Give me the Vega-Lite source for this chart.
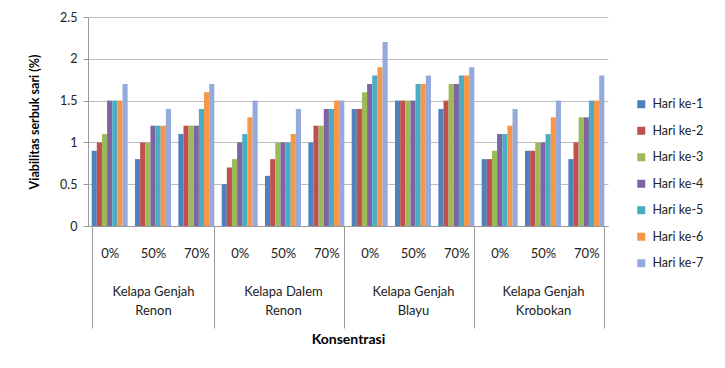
{
  "$schema": "https://vega.github.io/schema/vega-lite/v6.json",
  "width": 520,
  "height": 209,
  "autosize": {"type": "none"},
  "padding": {"left": 88, "top": 17, "right": 117, "bottom": 142},
  "background": "white",
  "config": {"font": "Lato", "view": {"stroke": null}},
  "data": {
    "values": [
      {"kelompok": "Kelapa Genjah Renon", "konsentrasi": "0%", "hari": "Hari ke-1", "nilai": 0.9},
      {"kelompok": "Kelapa Genjah Renon", "konsentrasi": "0%", "hari": "Hari ke-2", "nilai": 1.0},
      {"kelompok": "Kelapa Genjah Renon", "konsentrasi": "0%", "hari": "Hari ke-3", "nilai": 1.1},
      {"kelompok": "Kelapa Genjah Renon", "konsentrasi": "0%", "hari": "Hari ke-4", "nilai": 1.5},
      {"kelompok": "Kelapa Genjah Renon", "konsentrasi": "0%", "hari": "Hari ke-5", "nilai": 1.5},
      {"kelompok": "Kelapa Genjah Renon", "konsentrasi": "0%", "hari": "Hari ke-6", "nilai": 1.5},
      {"kelompok": "Kelapa Genjah Renon", "konsentrasi": "0%", "hari": "Hari ke-7", "nilai": 1.7},
      {"kelompok": "Kelapa Genjah Renon", "konsentrasi": "50%", "hari": "Hari ke-1", "nilai": 0.8},
      {"kelompok": "Kelapa Genjah Renon", "konsentrasi": "50%", "hari": "Hari ke-2", "nilai": 1.0},
      {"kelompok": "Kelapa Genjah Renon", "konsentrasi": "50%", "hari": "Hari ke-3", "nilai": 1.0},
      {"kelompok": "Kelapa Genjah Renon", "konsentrasi": "50%", "hari": "Hari ke-4", "nilai": 1.2},
      {"kelompok": "Kelapa Genjah Renon", "konsentrasi": "50%", "hari": "Hari ke-5", "nilai": 1.2},
      {"kelompok": "Kelapa Genjah Renon", "konsentrasi": "50%", "hari": "Hari ke-6", "nilai": 1.2},
      {"kelompok": "Kelapa Genjah Renon", "konsentrasi": "50%", "hari": "Hari ke-7", "nilai": 1.4},
      {"kelompok": "Kelapa Genjah Renon", "konsentrasi": "70%", "hari": "Hari ke-1", "nilai": 1.1},
      {"kelompok": "Kelapa Genjah Renon", "konsentrasi": "70%", "hari": "Hari ke-2", "nilai": 1.2},
      {"kelompok": "Kelapa Genjah Renon", "konsentrasi": "70%", "hari": "Hari ke-3", "nilai": 1.2},
      {"kelompok": "Kelapa Genjah Renon", "konsentrasi": "70%", "hari": "Hari ke-4", "nilai": 1.2},
      {"kelompok": "Kelapa Genjah Renon", "konsentrasi": "70%", "hari": "Hari ke-5", "nilai": 1.4},
      {"kelompok": "Kelapa Genjah Renon", "konsentrasi": "70%", "hari": "Hari ke-6", "nilai": 1.6},
      {"kelompok": "Kelapa Genjah Renon", "konsentrasi": "70%", "hari": "Hari ke-7", "nilai": 1.7},
      {"kelompok": "Kelapa Dalem Renon", "konsentrasi": "0%", "hari": "Hari ke-1", "nilai": 0.5},
      {"kelompok": "Kelapa Dalem Renon", "konsentrasi": "0%", "hari": "Hari ke-2", "nilai": 0.7},
      {"kelompok": "Kelapa Dalem Renon", "konsentrasi": "0%", "hari": "Hari ke-3", "nilai": 0.8},
      {"kelompok": "Kelapa Dalem Renon", "konsentrasi": "0%", "hari": "Hari ke-4", "nilai": 1.0},
      {"kelompok": "Kelapa Dalem Renon", "konsentrasi": "0%", "hari": "Hari ke-5", "nilai": 1.1},
      {"kelompok": "Kelapa Dalem Renon", "konsentrasi": "0%", "hari": "Hari ke-6", "nilai": 1.3},
      {"kelompok": "Kelapa Dalem Renon", "konsentrasi": "0%", "hari": "Hari ke-7", "nilai": 1.5},
      {"kelompok": "Kelapa Dalem Renon", "konsentrasi": "50%", "hari": "Hari ke-1", "nilai": 0.6},
      {"kelompok": "Kelapa Dalem Renon", "konsentrasi": "50%", "hari": "Hari ke-2", "nilai": 0.8},
      {"kelompok": "Kelapa Dalem Renon", "konsentrasi": "50%", "hari": "Hari ke-3", "nilai": 1.0},
      {"kelompok": "Kelapa Dalem Renon", "konsentrasi": "50%", "hari": "Hari ke-4", "nilai": 1.0},
      {"kelompok": "Kelapa Dalem Renon", "konsentrasi": "50%", "hari": "Hari ke-5", "nilai": 1.0},
      {"kelompok": "Kelapa Dalem Renon", "konsentrasi": "50%", "hari": "Hari ke-6", "nilai": 1.1},
      {"kelompok": "Kelapa Dalem Renon", "konsentrasi": "50%", "hari": "Hari ke-7", "nilai": 1.4},
      {"kelompok": "Kelapa Dalem Renon", "konsentrasi": "70%", "hari": "Hari ke-1", "nilai": 1.0},
      {"kelompok": "Kelapa Dalem Renon", "konsentrasi": "70%", "hari": "Hari ke-2", "nilai": 1.2},
      {"kelompok": "Kelapa Dalem Renon", "konsentrasi": "70%", "hari": "Hari ke-3", "nilai": 1.2},
      {"kelompok": "Kelapa Dalem Renon", "konsentrasi": "70%", "hari": "Hari ke-4", "nilai": 1.4},
      {"kelompok": "Kelapa Dalem Renon", "konsentrasi": "70%", "hari": "Hari ke-5", "nilai": 1.4},
      {"kelompok": "Kelapa Dalem Renon", "konsentrasi": "70%", "hari": "Hari ke-6", "nilai": 1.5},
      {"kelompok": "Kelapa Dalem Renon", "konsentrasi": "70%", "hari": "Hari ke-7", "nilai": 1.5},
      {"kelompok": "Kelapa Genjah Blayu", "konsentrasi": "0%", "hari": "Hari ke-1", "nilai": 1.4},
      {"kelompok": "Kelapa Genjah Blayu", "konsentrasi": "0%", "hari": "Hari ke-2", "nilai": 1.4},
      {"kelompok": "Kelapa Genjah Blayu", "konsentrasi": "0%", "hari": "Hari ke-3", "nilai": 1.6},
      {"kelompok": "Kelapa Genjah Blayu", "konsentrasi": "0%", "hari": "Hari ke-4", "nilai": 1.7},
      {"kelompok": "Kelapa Genjah Blayu", "konsentrasi": "0%", "hari": "Hari ke-5", "nilai": 1.8},
      {"kelompok": "Kelapa Genjah Blayu", "konsentrasi": "0%", "hari": "Hari ke-6", "nilai": 1.9},
      {"kelompok": "Kelapa Genjah Blayu", "konsentrasi": "0%", "hari": "Hari ke-7", "nilai": 2.2},
      {"kelompok": "Kelapa Genjah Blayu", "konsentrasi": "50%", "hari": "Hari ke-1", "nilai": 1.5},
      {"kelompok": "Kelapa Genjah Blayu", "konsentrasi": "50%", "hari": "Hari ke-2", "nilai": 1.5},
      {"kelompok": "Kelapa Genjah Blayu", "konsentrasi": "50%", "hari": "Hari ke-3", "nilai": 1.5},
      {"kelompok": "Kelapa Genjah Blayu", "konsentrasi": "50%", "hari": "Hari ke-4", "nilai": 1.5},
      {"kelompok": "Kelapa Genjah Blayu", "konsentrasi": "50%", "hari": "Hari ke-5", "nilai": 1.7},
      {"kelompok": "Kelapa Genjah Blayu", "konsentrasi": "50%", "hari": "Hari ke-6", "nilai": 1.7},
      {"kelompok": "Kelapa Genjah Blayu", "konsentrasi": "50%", "hari": "Hari ke-7", "nilai": 1.8},
      {"kelompok": "Kelapa Genjah Blayu", "konsentrasi": "70%", "hari": "Hari ke-1", "nilai": 1.4},
      {"kelompok": "Kelapa Genjah Blayu", "konsentrasi": "70%", "hari": "Hari ke-2", "nilai": 1.5},
      {"kelompok": "Kelapa Genjah Blayu", "konsentrasi": "70%", "hari": "Hari ke-3", "nilai": 1.7},
      {"kelompok": "Kelapa Genjah Blayu", "konsentrasi": "70%", "hari": "Hari ke-4", "nilai": 1.7},
      {"kelompok": "Kelapa Genjah Blayu", "konsentrasi": "70%", "hari": "Hari ke-5", "nilai": 1.8},
      {"kelompok": "Kelapa Genjah Blayu", "konsentrasi": "70%", "hari": "Hari ke-6", "nilai": 1.8},
      {"kelompok": "Kelapa Genjah Blayu", "konsentrasi": "70%", "hari": "Hari ke-7", "nilai": 1.9},
      {"kelompok": "Kelapa Genjah Krobokan", "konsentrasi": "0%", "hari": "Hari ke-1", "nilai": 0.8},
      {"kelompok": "Kelapa Genjah Krobokan", "konsentrasi": "0%", "hari": "Hari ke-2", "nilai": 0.8},
      {"kelompok": "Kelapa Genjah Krobokan", "konsentrasi": "0%", "hari": "Hari ke-3", "nilai": 0.9},
      {"kelompok": "Kelapa Genjah Krobokan", "konsentrasi": "0%", "hari": "Hari ke-4", "nilai": 1.1},
      {"kelompok": "Kelapa Genjah Krobokan", "konsentrasi": "0%", "hari": "Hari ke-5", "nilai": 1.1},
      {"kelompok": "Kelapa Genjah Krobokan", "konsentrasi": "0%", "hari": "Hari ke-6", "nilai": 1.2},
      {"kelompok": "Kelapa Genjah Krobokan", "konsentrasi": "0%", "hari": "Hari ke-7", "nilai": 1.4},
      {"kelompok": "Kelapa Genjah Krobokan", "konsentrasi": "50%", "hari": "Hari ke-1", "nilai": 0.9},
      {"kelompok": "Kelapa Genjah Krobokan", "konsentrasi": "50%", "hari": "Hari ke-2", "nilai": 0.9},
      {"kelompok": "Kelapa Genjah Krobokan", "konsentrasi": "50%", "hari": "Hari ke-3", "nilai": 1.0},
      {"kelompok": "Kelapa Genjah Krobokan", "konsentrasi": "50%", "hari": "Hari ke-4", "nilai": 1.0},
      {"kelompok": "Kelapa Genjah Krobokan", "konsentrasi": "50%", "hari": "Hari ke-5", "nilai": 1.1},
      {"kelompok": "Kelapa Genjah Krobokan", "konsentrasi": "50%", "hari": "Hari ke-6", "nilai": 1.3},
      {"kelompok": "Kelapa Genjah Krobokan", "konsentrasi": "50%", "hari": "Hari ke-7", "nilai": 1.5},
      {"kelompok": "Kelapa Genjah Krobokan", "konsentrasi": "70%", "hari": "Hari ke-1", "nilai": 0.8},
      {"kelompok": "Kelapa Genjah Krobokan", "konsentrasi": "70%", "hari": "Hari ke-2", "nilai": 1.0},
      {"kelompok": "Kelapa Genjah Krobokan", "konsentrasi": "70%", "hari": "Hari ke-3", "nilai": 1.3},
      {"kelompok": "Kelapa Genjah Krobokan", "konsentrasi": "70%", "hari": "Hari ke-4", "nilai": 1.3},
      {"kelompok": "Kelapa Genjah Krobokan", "konsentrasi": "70%", "hari": "Hari ke-5", "nilai": 1.5},
      {"kelompok": "Kelapa Genjah Krobokan", "konsentrasi": "70%", "hari": "Hari ke-6", "nilai": 1.5},
      {"kelompok": "Kelapa Genjah Krobokan", "konsentrasi": "70%", "hari": "Hari ke-7", "nilai": 1.8}
    ]
  },
  "transform": [
    {"calculate": "datum.kelompok + '|' + datum.konsentrasi", "as": "kategori"}
  ],
  "mark": {"type": "bar"},
  "encoding": {
    "x": {
      "field": "kategori",
      "type": "nominal",
      "sort": [
        "Kelapa Genjah Renon|0%", "Kelapa Genjah Renon|50%", "Kelapa Genjah Renon|70%",
        "Kelapa Dalem Renon|0%", "Kelapa Dalem Renon|50%", "Kelapa Dalem Renon|70%",
        "Kelapa Genjah Blayu|0%", "Kelapa Genjah Blayu|50%", "Kelapa Genjah Blayu|70%",
        "Kelapa Genjah Krobokan|0%", "Kelapa Genjah Krobokan|50%", "Kelapa Genjah Krobokan|70%"
      ],
      "scale": {"paddingInner": 0.17, "paddingOuter": 0.085},
      "axis": {
        "title": "Konsentrasi",
        "titleFontSize": 14,
        "titleFontWeight": "bold",
        "titleColor": "#000000",
        "titleY": 113,
        "titleBaseline": "middle",
        "labelExpr": "split(datum.value, '|')[1] == '50%' ? [split(datum.value, '|')[1], '\u200b', slice(split(datum.value, '|')[0], 0, lastindexof(split(datum.value, '|')[0], ' ')), slice(split(datum.value, '|')[0], lastindexof(split(datum.value, '|')[0], ' ') + 1)] : split(datum.value, '|')[1]",
        "labelAngle": 0,
        "labelBaseline": "top",
        "labelFontSize": 13,
        "labelColor": "#222222",
        "labelLineHeight": 19,
        "labelPadding": -81,
        "labelOverlap": false,
        "labelBound": false,
        "labelFlush": false,
        "tickBand": "extent",
        "tickSize": 102,
        "tickColor": "#9a9a9a",
        "tickOpacity": {"condition": {"test": "datum.extra || indexof(datum.value, '|70%') >= 0", "value": 1}, "value": 0},
        "domainColor": "#9a9a9a",
        "grid": false
      }
    },
    "xOffset": {
      "field": "hari",
      "type": "nominal",
      "scale": {"paddingInner": 0, "paddingOuter": 0}
    },
    "y": {
      "field": "nilai",
      "type": "quantitative",
      "scale": {"domain": [0, 2.5]},
      "axis": {
        "title": "Viabilitas serbuk sari (%)",
        "titleFontSize": 12.5,
        "titleFontWeight": "bold",
        "titleColor": "#000000",
        "titlePadding": 18,
        "values": [0, 0.5, 1, 1.5, 2, 2.5],
        "format": "~g",
        "labelFontSize": 12.5,
        "labelColor": "#222222",
        "labelPadding": 6,
        "tickSize": 5,
        "tickColor": "#9a9a9a",
        "domainColor": "#9a9a9a",
        "gridColor": "#bdbdbd",
        "grid": true
      }
    },
    "color": {
      "field": "hari",
      "type": "nominal",
      "scale": {
        "domain": ["Hari ke-1", "Hari ke-2", "Hari ke-3", "Hari ke-4", "Hari ke-5", "Hari ke-6", "Hari ke-7"],
        "range": ["#4F81BD", "#C0504D", "#9BBB59", "#8064A2", "#4BACC6", "#F79646", "#95A9DB"]
      },
      "legend": {
        "title": null,
        "orient": "none",
        "legendX": 547,
        "legendY": 81,
        "padding": 0,
        "symbolType": "square",
        "symbolSize": 64,
        "symbolStrokeWidth": 0,
        "labelFontSize": 12.5,
        "labelColor": "#222222",
        "labelOffset": 5,
        "rowPadding": 13.5
      }
    }
  }
}
